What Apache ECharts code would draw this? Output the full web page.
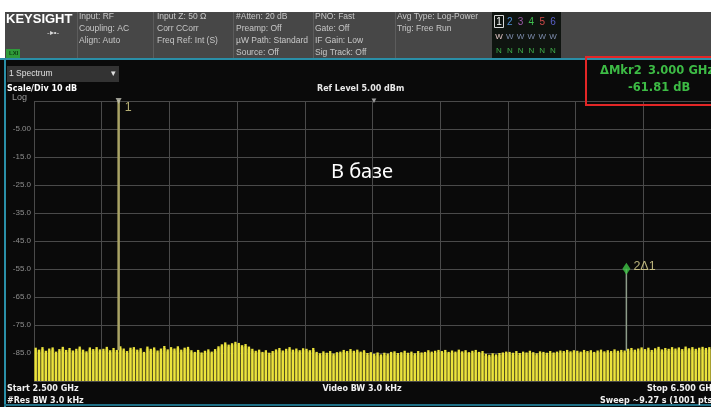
<!DOCTYPE html>
<html>
<head>
<meta charset="utf-8">
<script src="https://cdn.jsdelivr.net/npm/echarts@6/dist/echarts.min.js"></script>
<style>
html,body{margin:0;padding:0;background:#fff;}
#c{width:711px;height:407px;}
</style>
</head>
<body>
<div id="c"></div>
<script>
// ---------- data ----------
const freqStartGHz = 2.5;
const freqStopGHz = 6.5;
const refLevelDbm = 5;
const bottomLevelDbm = -95;
const xDivisionLabels = ['2.5','2.9','3.3','3.7','4.1','4.5','4.9','5.3','5.7','6.1','6.5'];
const yTickLabels = ['', '-85.0', '-75.0', '-65.0', '-55.0', '-45.0', '-35.0', '-25.0', '-15.0', '-5.00', ''];
const noiseTopDbm = [
  -83.1,-83.8,-82.9,-84.2,-83.4,-83.0,-84.5,-83.6,-82.8,-83.9,-83.2,-84.1,-83.5,-82.7,-83.8,-84.4,-83.0,-83.6,-82.9,-83.7,
  -83.5,-82.8,-84.0,-83.2,-83.9,-82.6,-83.4,-84.3,-83.1,-82.9,-83.8,-83.3,-84.6,-82.7,-83.5,-83.0,-84.1,-83.4,-82.5,-83.7,
  -82.9,-83.4,-82.6,-83.8,-83.1,-82.8,-84.0,-84.6,-83.9,-84.8,-84.2,-83.7,-84.5,-83.6,-82.6,-81.9,-81.2,-82.0,-81.5,-81.0,
  -81.4,-82.2,-81.8,-82.7,-83.5,-84.2,-83.8,-84.6,-84.0,-84.9,-84.3,-83.7,-83.2,-84.1,-83.5,-82.9,-83.8,-83.4,-84.0,-83.3,
  -83.5,-84.0,-83.2,-84.6,-85.1,-84.4,-84.9,-84.3,-85.2,-84.7,-84.5,-83.9,-84.3,-83.6,-84.2,-83.8,-84.5,-84.0,-85.0,-84.7,
  -85.3,-84.8,-85.5,-84.9,-85.2,-84.6,-84.4,-85.0,-84.7,-84.2,-84.9,-84.5,-85.1,-84.3,-84.8,-84.6,-84.0,-84.5,-84.2,-83.9,
  -84.3,-83.9,-84.6,-84.1,-84.5,-83.8,-84.4,-84.0,-84.7,-84.2,-83.9,-84.6,-84.3,-85.3,-85.6,-85.1,-85.5,-85.0,-84.8,-84.5,
  -84.6,-84.9,-84.3,-85.0,-84.5,-84.8,-84.2,-84.7,-85.1,-84.4,-84.6,-84.9,-84.3,-84.8,-84.5,-84.1,-84.3,-83.9,-84.4,-84.0,
  -84.2,-84.5,-83.9,-84.3,-84.0,-84.6,-84.1,-83.8,-84.4,-84.0,-84.3,-83.7,-84.2,-83.9,-84.1,-83.5,-83.2,-83.8,-83.4,-83.0,
  -83.6,-83.1,-83.9,-83.3,-82.8,-83.7,-83.2,-83.5,-82.9,-83.4,-83.0,-83.6,-82.7,-83.3,-82.9,-83.5,-83.1,-82.8,-83.2,-82.9
];
const markerFreqGHz = [3.0, 6.0];
const markerLevelDbm = [6.9, -54.9];
const spikeBaseDbm = [-84.0, -84.2];
const markerLabels = ['1', '2\u03941'];

// ---------- build ----------
const binWidth = (freqStopGHz - freqStartGHz) / noiseTopDbm.length;
const noiseData = noiseTopDbm.map((v, i) => [freqStartGHz + (i + 0.5) * binWidth, v]);

const FONT = '"Liberation Sans", Arial, sans-serif';
const WIDE = '"DejaVu Sans", sans-serif';
function txt(x, y, text, o) {
  o = o || {};
  return {
    type: 'text', x: x, y: y, z: 100,
    style: {
      text: text,
      fill: o.fill || '#c8c8c8',
      font: (o.weight || 'normal') + ' ' + (o.size || 8.5) + 'px ' + (o.family || FONT),
      align: o.align || 'left',
      verticalAlign: 'middle'
    }
  };
}
function rect(x, y, w, h, fill, z) {
  return { type: 'rect', z: z || 50, shape: { x: x, y: y, width: w, height: h }, style: { fill: fill } };
}
function vline(x, y1, y2, stroke, lw) {
  return { type: 'line', z: 60, shape: { x1: x, y1: y1, x2: x, y2: y2 }, style: { stroke: stroke, lineWidth: lw || 1 } };
}

const traceNums = ['1','2','3','4','5','6'];
const traceColors = ['#ffffff','#4f8fd6','#9a5aa8','#3fbf4f','#d04a4a','#5a60c8'];
const graphics = [
  rect(0, 0, 711, 12, '#ffffff', 40),
  rect(0, 12, 5, 46, '#ffffff', 40),
  rect(5, 12, 706, 46, '#474747', 41),
  rect(0, 58, 711, 2, '#2a8fa8', 42),
  rect(4, 58, 2, 349, '#2a8fa8', 42),
  rect(4, 404, 707, 2, '#1f6f86', 42),
  vline(77.5, 12, 58, '#5c5c5c'),
  vline(153.5, 12, 58, '#5c5c5c'),
  vline(233.5, 12, 58, '#5c5c5c'),
  vline(313.5, 12, 58, '#5c5c5c'),
  vline(395.5, 12, 58, '#5c5c5c'),
  txt(6, 19, 'KEYSIGHT', { fill: '#ffffff', weight: 'bold', size: 13 }),
  txt(47, 33, '-\u25B8\u2022-', { fill: '#d8d8d8', size: 8 }),
  rect(6, 49, 14, 9, '#2f9a3a', 55),
  txt(9, 53.5, 'LXI', { fill: '#0d3d12', size: 6, weight: 'bold' }),
  txt(79, 17, 'Input: RF'),
  txt(79, 29, 'Coupling: AC'),
  txt(79, 41, 'Align: Auto'),
  txt(157, 17, 'Input Z: 50 \u03A9'),
  txt(157, 29, 'Corr CCorr'),
  txt(157, 41, 'Freq Ref: Int (S)'),
  txt(236, 17, '#Atten: 20 dB'),
  txt(236, 29, 'Preamp: Off'),
  txt(236, 41, '\u00B5W Path: Standard'),
  txt(236, 53, 'Source: Off'),
  txt(315, 17, 'PNO: Fast'),
  txt(315, 29, 'Gate: Off'),
  txt(315, 41, 'IF Gain: Low'),
  txt(315, 53, 'Sig Track: Off'),
  txt(397, 17, 'Avg Type: Log-Power'),
  txt(397, 29, 'Trig: Free Run'),
  rect(492, 12, 69, 46, '#0f1410', 52),
  { type: 'rect', z: 60, shape: { x: 494.5, y: 15.5, width: 9, height: 12 }, style: { fill: 'none', stroke: '#d8d8d8', lineWidth: 1 } }
];
traceNums.forEach((n, i) => {
  const x = 499 + i * 10.8;
  graphics.push(txt(x, 22, n, { fill: traceColors[i], size: 10, align: 'center' }));
  graphics.push(txt(x, 37, 'W', { fill: i === 0 ? '#e6c8c8' : '#7f8fb0', size: 8, align: 'center' }));
  graphics.push(txt(x, 51, 'N', { fill: '#3fae4a', size: 8, align: 'center' }));
});
graphics.push(
  rect(7, 66, 112, 16, '#333333', 55),
  txt(9, 74, '1 Spectrum', { fill: '#e0e0e0', size: 8.5 }),
  txt(113, 74, '\u25BE', { fill: '#e0e0e0', size: 9, align: 'center' }),
  txt(7, 88.5, 'Scale/Div 10 dB', { fill: '#ffffff', weight: 'bold', size: 8, family: WIDE }),
  txt(12, 97.5, 'Log', { fill: '#9a9a9a', size: 9 }),
  txt(317, 89, 'Ref Level 5.00 dBm', { fill: '#e8e8e8', weight: 'bold', size: 8, family: WIDE }),
  txt(374, 101, '\u25BC', { fill: '#9a9a9a', size: 8, align: 'center' }),
  { type: 'rect', z: 70, shape: { x: 586, y: 57, width: 130, height: 48 }, style: { fill: 'none', stroke: '#e32626', lineWidth: 2 } },
  txt(600, 71, '\u0394Mkr2', { fill: '#3dbb45', weight: 'bold', size: 11.5, family: WIDE }),
  txt(648, 71, '3.000 GHz', { fill: '#3dbb45', weight: 'bold', size: 11.5, family: WIDE }),
  txt(628, 88, '-61.81 dB', { fill: '#3dbb45', weight: 'bold', size: 11.5, family: WIDE }),
  txt(362, 172, '\u0412 \u0431\u0430\u0437\u0435', { fill: '#ffffff', size: 20, align: 'center', family: '"Noto Sans", "Open Sans", sans-serif' }),
  txt(7, 389, 'Start 2.500 GHz', { fill: '#f0f0f0', weight: 'bold', size: 8, family: WIDE }),
  txt(7, 400.5, '#Res BW 3.0 kHz', { fill: '#f0f0f0', weight: 'bold', size: 8, family: WIDE }),
  txt(362, 389, 'Video BW 3.0 kHz', { fill: '#f0f0f0', weight: 'bold', size: 8, align: 'center', family: WIDE }),
  txt(647, 389, 'Stop 6.500 GHz', { fill: '#f0f0f0', weight: 'bold', size: 8, family: WIDE }),
  txt(600, 401, 'Sweep ~9.27 s (1001 pts)', { fill: '#f0f0f0', weight: 'bold', size: 8, family: WIDE })
);

const chart = echarts.init(document.getElementById('c'), null, { renderer: 'canvas' });
chart.setOption({
  backgroundColor: '#0a0a0a',
  animation: false,
  grid: { left: 34, top: 101, width: 680, height: 280, containLabel: false },
  xAxis: [
    { type: 'value', min: freqStartGHz, max: freqStopGHz, show: false },
    { type: 'category', data: xDivisionLabels, boundaryGap: false, position: 'bottom',
      axisLine: { show: false }, axisTick: { show: false }, axisLabel: { show: false },
      splitLine: { show: true, interval: 0, lineStyle: { color: '#4a4a4a', width: 1 } } }
  ],
  yAxis: [
    { type: 'value', min: bottomLevelDbm, max: refLevelDbm, show: false },
    { type: 'category', data: yTickLabels, boundaryGap: false, position: 'left',
      axisLine: { show: false }, axisTick: { show: false },
      axisLabel: { show: true, interval: 0, color: '#8e8e8e', fontSize: 8, margin: 3, fontFamily: FONT },
      splitLine: { show: true, interval: 0, lineStyle: { color: '#4a4a4a', width: 1 } } }
  ],
  series: [
    {
      type: 'custom', xAxisIndex: 0, yAxisIndex: 0, data: noiseData, clip: true,
      renderItem: function (params, api) {
        const f = api.value(0), v = api.value(1);
        const top = api.coord([f, v]);
        const bot = api.coord([f, bottomLevelDbm]);
        const full = api.size([binWidth, 0])[0];
        const w = full * 0.68;
        return {
          type: 'group',
          children: [
            { type: 'rect', shape: { x: top[0] - full / 2, y: top[1] + 2, width: full, height: bot[1] - top[1] - 2 }, style: { fill: '#6e6826' } },
            { type: 'rect', shape: { x: top[0] - w / 2, y: top[1], width: w, height: bot[1] - top[1] }, style: { fill: '#ece43c' } }
          ]
        };
      }
    },
    {
      type: 'line', xAxisIndex: 0, yAxisIndex: 0, symbol: 'none', clip: true,
      data: [[markerFreqGHz[0], spikeBaseDbm[0]], [markerFreqGHz[0], markerLevelDbm[0]]],
      lineStyle: { color: '#a9a365', width: 2.5 }, z: 3
    },
    {
      type: 'line', xAxisIndex: 0, yAxisIndex: 0, symbol: 'none', clip: true,
      data: [[markerFreqGHz[1], spikeBaseDbm[1]], [markerFreqGHz[1], markerLevelDbm[1]]],
      lineStyle: { color: '#8e9c8a', width: 1.5 }, z: 3
    },
    {
      type: 'scatter', xAxisIndex: 0, yAxisIndex: 0, z: 5,
      data: [[markerFreqGHz[1], markerLevelDbm[1]]],
      symbol: 'diamond', symbolSize: [8, 12],
      itemStyle: { color: '#3fc446' },
      label: { show: true, position: 'right', distance: 3, offset: [0, -2], formatter: markerLabels[1], color: '#e2da95', fontSize: 12.5, fontFamily: FONT }
    },
    {
      type: 'scatter', xAxisIndex: 0, yAxisIndex: 0, z: 5,
      data: [[markerFreqGHz[0], Math.min(markerLevelDbm[0], refLevelDbm)]],
      symbol: 'triangle', symbolRotate: 180, symbolSize: 6,
      itemStyle: { color: '#bdbdb0' },
      label: { show: true, position: 'right', distance: 3, offset: [0, 7], formatter: markerLabels[0], color: '#ddd58c', fontSize: 12.5, fontFamily: FONT }
    }
  ],
  graphic: { elements: graphics }
});
</script>
</body>
</html>
